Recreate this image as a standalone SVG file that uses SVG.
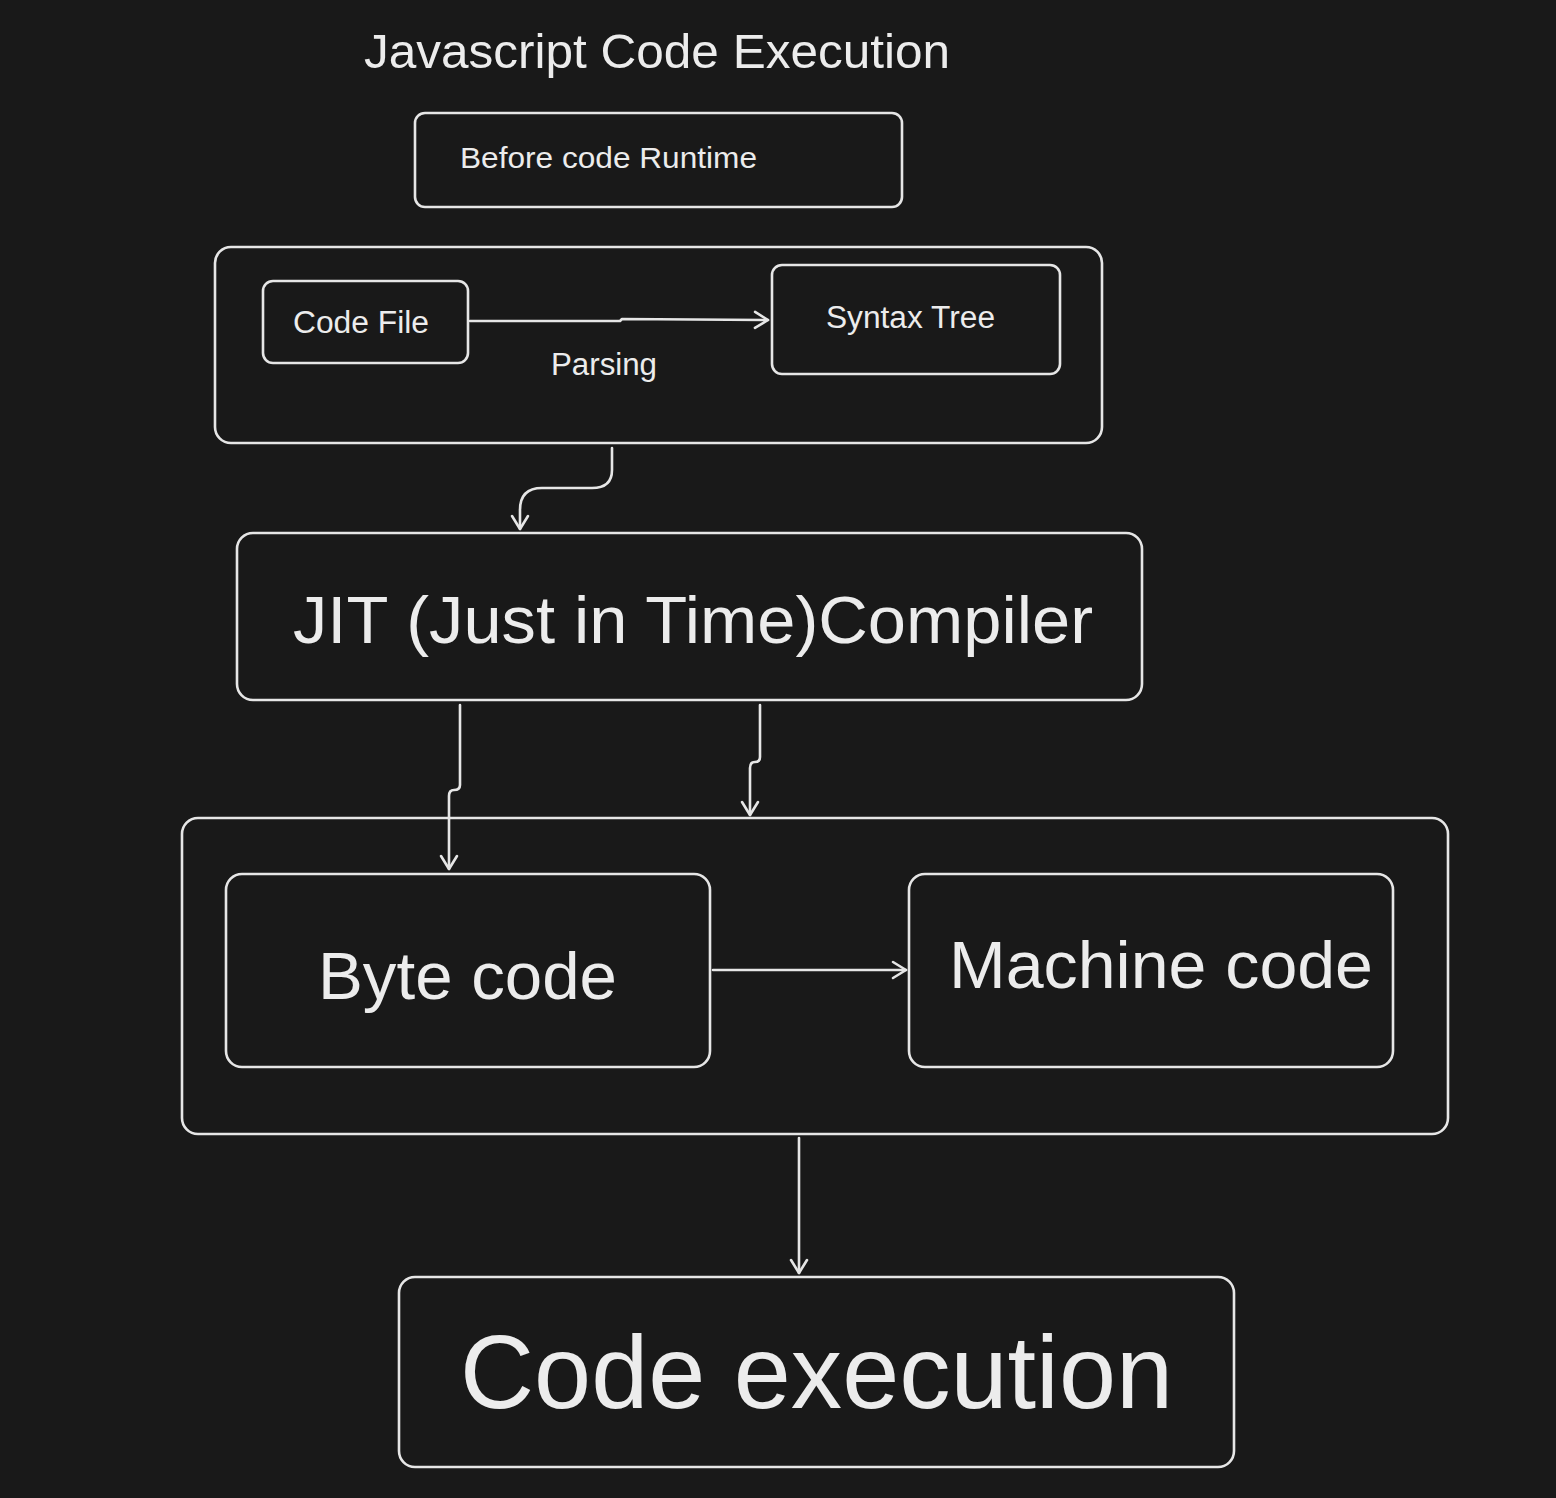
<svg xmlns="http://www.w3.org/2000/svg" width="1556" height="1498" viewBox="0 0 1556 1498">
<defs>
<style>
.b{fill:none;stroke:#e6e6e6;stroke-width:2.6;stroke-linecap:round;stroke-linejoin:round}
.t{fill:#ececec;font-family:"Liberation Sans",Arial,sans-serif}
</style>
<marker id="ah" viewBox="-16 -10 20 20" refX="0" refY="0" markerWidth="20" markerHeight="20" markerUnits="userSpaceOnUse" orient="auto">
<path d="M-13,-8 L0,0 L-13,8" fill="none" stroke="#e6e6e6" stroke-width="2.6" stroke-linecap="round" stroke-linejoin="round"/>
</marker>
</defs>
<rect width="1556" height="1498" fill="#191919"/>
<g id="title"><text class="t" x="364" y="68" font-size="48" textLength="586" lengthAdjust="spacingAndGlyphs">Javascript Code Execution</text></g>
<g id="before-runtime"><rect class="b" x="415" y="113" width="487" height="94" rx="10"/><text class="t" x="460" y="168" font-size="30" textLength="297" lengthAdjust="spacingAndGlyphs">Before code Runtime</text></g>
<g id="parse-container"><rect class="b" x="215" y="247" width="887" height="196" rx="16"/></g>
<g id="code-file"><rect class="b" x="263" y="281" width="205" height="82" rx="10"/><text class="t" x="293" y="333" font-size="31" textLength="136" lengthAdjust="spacingAndGlyphs">Code File</text></g>
<g id="syntax-tree"><rect class="b" x="772" y="265" width="288" height="109" rx="10"/><text class="t" x="826" y="328" font-size="31" textLength="169" lengthAdjust="spacingAndGlyphs">Syntax Tree</text></g>
<g id="parsing-label"><text class="t" x="551" y="375" font-size="31" textLength="106" lengthAdjust="spacingAndGlyphs">Parsing</text></g>
<g id="jit"><rect class="b" x="237" y="533" width="905" height="167" rx="16"/><text class="t" x="293" y="643" font-size="67" textLength="800" lengthAdjust="spacingAndGlyphs">JIT (Just in Time)Compiler</text></g>
<g id="compile-container"><rect class="b" x="182" y="818" width="1266" height="316" rx="16"/></g>
<g id="byte-code"><rect class="b" x="226" y="874" width="484" height="193" rx="16"/><text class="t" x="318" y="999" font-size="66" textLength="299" lengthAdjust="spacingAndGlyphs">Byte code</text></g>
<g id="machine-code"><rect class="b" x="909" y="874" width="484" height="193" rx="16"/><text class="t" x="949" y="988" font-size="66" textLength="424" lengthAdjust="spacingAndGlyphs">Machine code</text></g>
<g id="code-execution"><rect class="b" x="399" y="1277" width="835" height="190" rx="16"/><text class="t" x="460" y="1408" font-size="104" textLength="713" lengthAdjust="spacingAndGlyphs">Code execution</text></g>
<g id="connectors">
<path class="b" d="M470,321 L620,321 L622,319 L768,320" marker-end="url(#ah)"/>
<path class="b" d="M612,448 L612,470 Q612,488 592,488 L542,488 Q520,488 520,510 L520,529" marker-end="url(#ah)"/>
<path class="b" d="M460,705 L460,785 Q460,790 454,790 Q449,790 449,796 L449,869" marker-end="url(#ah)"/>
<path class="b" d="M760,705 L760,757 Q760,762 755,762 Q750,762 750,768 L750,815" marker-end="url(#ah)"/>
<path class="b" d="M713,970 L906,970" marker-end="url(#ah)"/>
<path class="b" d="M799,1138 L799,1273" marker-end="url(#ah)"/>
</g>
</svg>
